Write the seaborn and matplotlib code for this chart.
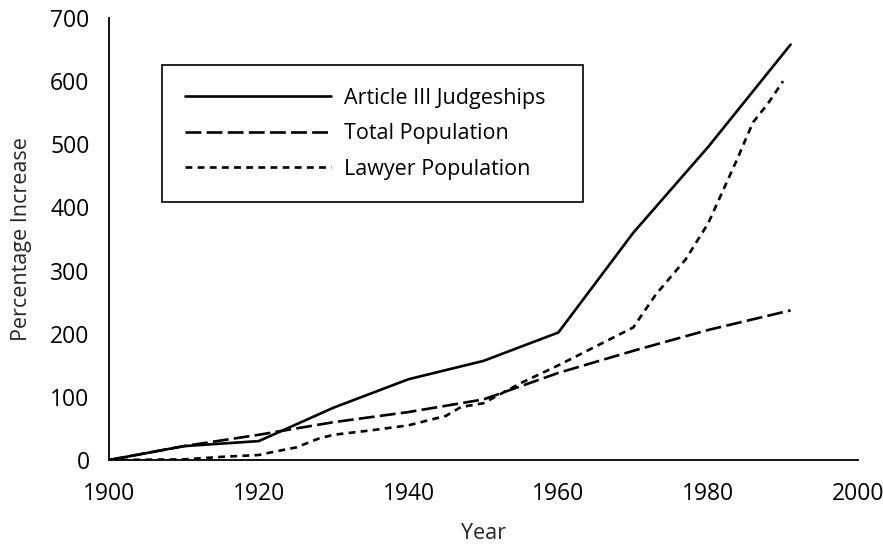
import pandas as pd
import matplotlib
matplotlib.use("Agg")
import matplotlib.pyplot as plt
import seaborn as sns

# ==========================================
# DATA
# ==========================================
judge_years = [1900, 1910, 1920, 1930, 1940, 1950, 1960, 1970, 1980, 1991]
judge_vals = [0, 22, 30, 83, 128, 157, 202, 360, 496, 658]

pop_years = [1900, 1910, 1920, 1930, 1940, 1950, 1960, 1970, 1980, 1991]
pop_vals = [0, 22, 40, 60, 76, 96, 138, 173, 206, 237]

lawyer_years = [1900, 1910, 1915, 1920, 1922, 1925, 1928, 1930, 1935, 1940,
                1945, 1947, 1950, 1955, 1960, 1965, 1970, 1973, 1977, 1980,
                1984, 1985, 1986, 1988, 1990]
lawyer_vals = [0, 1, 5, 8, 13, 20, 34, 40, 47, 55,
               70, 84, 90, 122, 150, 180, 210, 262, 318, 375,
               480, 508, 535, 565, 600]

labels = ["Article III Judgeships", "Total Population", "Lawyer Population"]

sns.set_style("white")
plt.rcParams['font.family'] = ['Open Sans', 'DejaVu Sans']
FS = 15.5
TICK_FS = 16.5

fig = plt.figure(figsize=(8.83, 5.47), dpi=100)
ax = fig.add_axes([0.1234, 0.159, 0.8483, 0.808])

lw = 1.9
sns.lineplot(x=judge_years, y=judge_vals, ax=ax, color="black", lw=lw,
             label=labels[0])
sns.lineplot(x=pop_years, y=pop_vals, ax=ax, color="black", lw=lw,
             label=labels[1]).lines[-1].set_dashes([6, 2])
sns.lineplot(x=lawyer_years, y=lawyer_vals, ax=ax, color="black", lw=lw,
             label=labels[2]).lines[-1].set_dashes([2.6, 2])

ax.set_xlim(1900, 2000)
ax.set_ylim(0, 700)
ax.set_xticks([1900, 1920, 1940, 1960, 1980, 2000])
ax.set_yticks(range(0, 701, 100))
for s in ["top", "right"]:
    ax.spines[s].set_visible(False)
for s in ["left", "bottom"]:
    ax.spines[s].set_color("black")
    ax.spines[s].set_linewidth(1.3)
ax.tick_params(direction="inout", length=10, width=1.2, colors="black",
               labelsize=TICK_FS, pad=9)
ax.tick_params(axis="x", pad=11)

ax.set_xlabel("Year", fontsize=FS, labelpad=12)
ax.set_ylabel("Percentage Increase", fontsize=FS, labelpad=13)

# legend box stretched to the reference's width
leg = ax.legend(loc="upper left", bbox_to_anchor=(0.0708, 0.5928, 0.562, 0.301),
                mode="expand", borderaxespad=0,
                fontsize=FS, handlelength=6.8, handletextpad=0.6,
                labelspacing=0.68, borderpad=1.05, fancybox=False,
                framealpha=1, edgecolor="black")
leg.get_frame().set_linewidth(1.2)
for t in leg.get_texts():
    t.set_color("black")

plt.savefig("out.png", dpi=100)
